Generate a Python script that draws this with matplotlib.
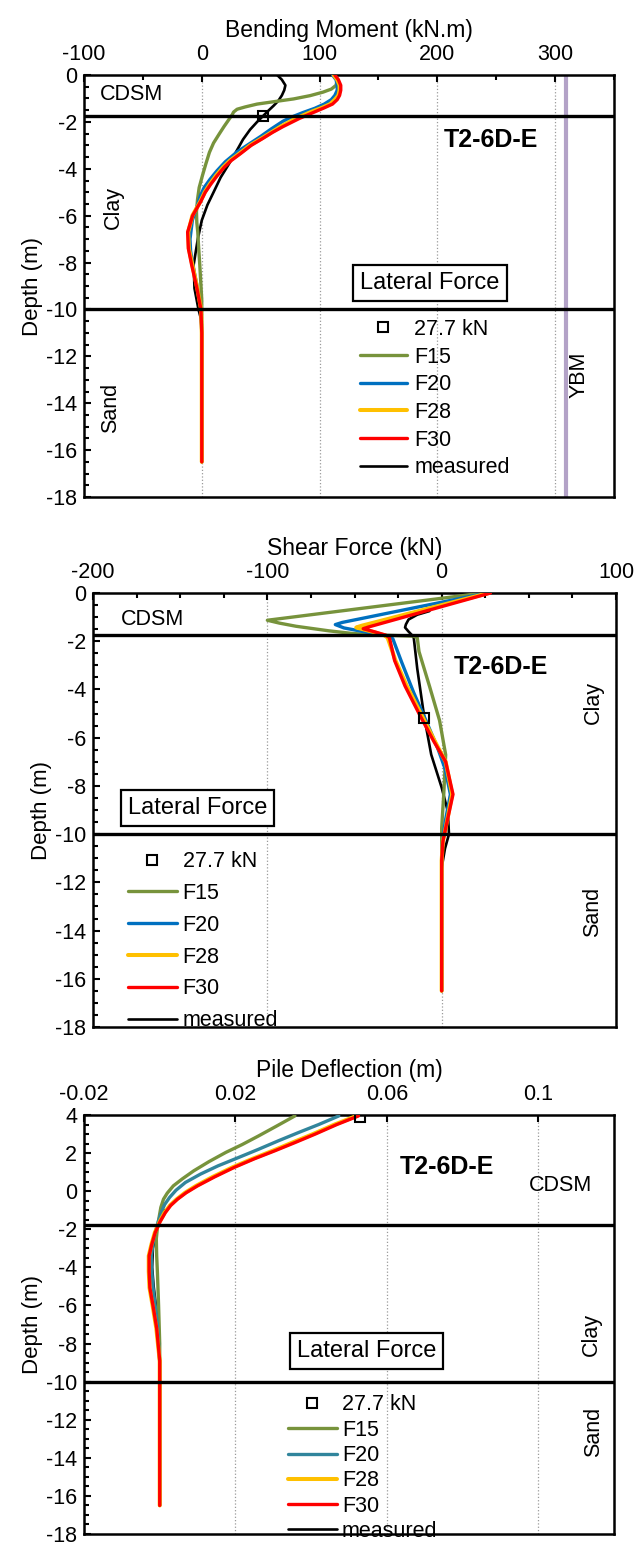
import matplotlib
matplotlib.use("Agg")
import matplotlib.pyplot as plt
from matplotlib.lines import Line2D
from matplotlib.ticker import MultipleLocator

plt.rcParams['font.family'] = ['Liberation Sans', 'DejaVu Sans']
plt.rcParams['axes.unicode_minus'] = False

# ---------------- data: bending moment (kN.m) ----------------
bm_f15_d = [0, -0.2, -0.44, -0.6, -0.73, -0.88, -1.02, -1.14, -1.24, -1.36, -1.46, -1.58, -1.68, -1.9, -2.19, -2.5, -2.9, -3.3, -3.8, -4.3, -4.8, -5.3, -5.83, -6.3, -6.7, -7.4, -8.1, -8.9, -9.6, -10.5, -12, -14, -16.5]
bm_f15 = [112, 115, 114, 110, 103, 92, 78, 61, 47, 37, 30, 27, 26, 23, 19, 15, 10, 6.5, 3.4, 0.5, -2.2, -3.6, -4.5, -4.2, -3.4, -2.6, -1.7, -0.8, 0, 0, 0, 0, 0]
bm_f20_d = [0, -0.2, -0.44, -0.65, -0.87, -1.05, -1.24, -1.42, -1.6, -1.8, -1.97, -2.3, -2.62, -2.95, -3.28, -3.7, -4.08, -4.45, -4.8, -5.15, -5.54, -6.2, -7.0, -7.5, -8.0, -9.0, -10.0, -11, -16.5]
bm_f20 = [111, 114, 115, 115, 113, 110, 104, 96, 86, 76, 69, 59, 50, 40, 30, 20, 13, 7, 2, -1.2, -3.6, -8, -10, -9.5, -8, -4, -0.7, 0, 0]
bm_f28_d = [0, -0.2, -0.44, -0.65, -0.87, -1.05, -1.24, -1.4, -1.55, -1.7, -1.85, -2.2, -2.45, -2.7, -3.0, -3.35, -3.65, -3.94, -4.3, -4.66, -5.0, -5.39, -6.0, -6.7, -7.4, -8.1, -9.1, -10, -11, -16.5]
bm_f28 = [112, 115, 117, 117, 116, 113, 109, 102, 94, 87, 80, 67, 59, 51, 41, 32, 24, 18, 12, 6.8, 2.5, -1.2, -8, -11.5, -11, -8, -3.8, -0.6, 0, 0]
bm_f30_d = bm_f28_d
bm_f30 = [113, 116, 118, 118, 117, 115, 111, 104, 97, 90, 83, 69, 60, 52, 42, 33, 25, 19, 13, 7.6, 3, -0.8, -7.8, -12, -11.4, -8.6, -4.1, -0.7, 0, 0]
bm_meas_d = [0, -0.2, -0.44, -0.65, -0.87, -1.1, -1.31, -1.5, -1.75, -2.0, -2.33, -2.75, -3.2, -3.8, -4.37, -5.0, -5.54, -6.2, -7.0, -8.1, -9.1, -10.0, -10.4, -11]
bm_meas = [64, 68, 71, 70, 68, 65, 61, 57, 52, 47, 41, 35, 30, 23, 16, 10, 4.8, 0, -3.4, -6.9, -6.2, -2.8, -0.7, 0]
bm_pt_d = [-1.75]
bm_pt = [52]
ybm = 309

# ---------------- data: shear force (kN) ----------------
sf_f15_d = [0, -1.13, -1.25, -1.38, -1.57, -1.68, -1.74, -1.79, -1.86, -2.43, -3.86, -5.29, -6.71, -8.35, -9.75, -11, -16.5]
sf_f15 = [24, -100, -93, -83.5, -64.6, -51, -37, -16, -14, -13, -7, -1.2, 2.3, 1.2, 0, 0, 0]
sf_f20_d = [0, -1.22, -1.31, -1.45, -1.6, -1.79, -1.9, -2.86, -4.14, -5.29, -6.43, -7.3, -8.35, -9.5, -10.3, -11.1, -16.5]
sf_f20 = [26, -57, -61, -56, -45, -30, -28, -23, -16, -9, -2.3, 2, 5, 2, 0.5, 0, 0]
sf_f28_d = [0, -1.36, -1.43, -1.6, -1.75, -1.85, -2.8, -3.86, -5.14, -6.14, -7.0, -8.35, -9.75, -10.3, -11.1, -16.5]
sf_f28 = [27, -46, -49, -40, -33, -31, -26.5, -20, -11, -4, 2.3, 6, 2.3, 0.7, 0, 0]
sf_f30_d = [0, -1.41, -1.48, -1.62, -1.75, -1.85, -2.8, -3.86, -5.14, -6.14, -7.0, -8.35, -9.75, -10.3, -11.1, -16.5]
sf_f30 = [28, -42, -45, -38, -32, -30, -27, -21, -12, -4.6, 2.3, 6.5, 2.3, 0.7, 0, 0]
sf_meas_d = [-0.75, -0.9, -1.1, -1.3, -1.43, -1.6, -1.75, -1.86, -3.14, -5.14, -6.7, -8.07, -9.05, -10, -10.6, -11.4]
sf_meas = [-7, -14, -19, -20.5, -21, -19, -17, -16, -14, -10, -6, 0, 3.5, 4.2, 1.9, 0]
sf_pt_d = [-5.19]
sf_pt = [-10]

# ---------------- data: pile deflection (m) ----------------
pd_f15_d = [3.95, 3.4, 2.9, 2.45, 2.04, 1.55, 1.07, 0.65, 0.28, -0.1, -0.42, -0.85, -1.3, -1.9, -2.5, -3.4, -4.3, -6, -8, -10, -16.5]
pd_f15 = [0.0357, 0.0307, 0.0261, 0.0218, 0.0175, 0.0130, 0.009, 0.0060, 0.0036, 0.0020, 0.001, 0.0003, -0.0001, -0.0006, -0.0009, -0.0008, -0.0006, -0.0003, 0, 0, 0]
pd_f20_d = [3.95, 3.5, 3.09, 2.65, 2.2, 1.75, 1.33, 0.9, 0.46, 0.05, -0.33, -0.7, -1.12, -1.6, -2.18, -2.8, -3.4, -4.2, -5, -7, -9, -10, -16.5]
pd_f20 = [0.0473, 0.0420, 0.0368, 0.0314, 0.0261, 0.0206, 0.0154, 0.0108, 0.0068, 0.0043, 0.0026, 0.0013, 0.0004, -0.0004, -0.0012, -0.0018, -0.0022, -0.0021, -0.0018, -0.0006, 0, 0, 0]
pd_f28_d = [3.95, 3.5, 3.0, 2.55, 2.12, 1.7, 1.25, 0.75, 0.28, -0.08, -0.42, -0.75, -1.12, -1.6, -2.18, -2.8, -3.4, -4.2, -5.07, -6.1, -7.2, -8.9, -10, -16.5]
pd_f28 = [0.0520, 0.0462, 0.0405, 0.0350, 0.0298, 0.0245, 0.0192, 0.0140, 0.0096, 0.0067, 0.0045, 0.0027, 0.0013, 0.0000, -0.0013, -0.0022, -0.0029, -0.0029, -0.0027, -0.0018, -0.0009, 0, 0, 0]
pd_f30_d = pd_f28_d
pd_f30 = [0.0525, 0.0468, 0.0411, 0.0357, 0.0304, 0.0250, 0.0197, 0.0145, 0.0100, 0.0070, 0.0047, 0.0029, 0.0015, 0.0001, -0.0012, -0.0021, -0.0028, -0.0028, -0.0026, -0.0017, -0.0008, 0, 0, 0]
pd_meas_d = [-1.0, -2.0, -3.0, -4.0, -5.0, -6.0, -7.0, -8.0]
pd_meas = [0.0012, -0.0008, -0.0018, -0.0020, -0.0016, -0.0010, -0.0005, 0]
pd_pt_d = [3.9]
pd_pt = [0.053]

legend_labels = ['27.7 kN', 'F15', 'F20', 'F28', 'F30', 'measured']
layer_depths = [-1.75, -10]

C_F15 = '#77933C'
C_F20 = '#0070C0'
C_F20b = '#31859C'
C_F28 = '#FFC000'
C_F30 = '#FF0000'

FS = 15.5

fig = plt.figure(figsize=(6.44, 15.46), dpi=100)
W, H = 644, 1546


def make_ax(l, r, t, b):
    return fig.add_axes([l / W, 1 - b / H, (r - l) / W, (b - t) / H])


def style(ax, xlim, ylim, xmajor, xminor, xlabel):
    ax.set_xlim(*xlim)
    ax.set_ylim(*ylim)
    ax.xaxis.tick_top()
    ax.xaxis.set_label_position('top')
    ax.xaxis.set_major_locator(MultipleLocator(xmajor))
    if xminor:
        ax.xaxis.set_minor_locator(MultipleLocator(xminor))
    ax.yaxis.set_major_locator(MultipleLocator(2))
    ax.yaxis.set_minor_locator(MultipleLocator(0.5))
    ax.tick_params(axis='both', which='both', direction='in', labelsize=FS,
                   top=True, bottom=False, left=True, right=False, width=1.5)
    ax.tick_params(which='major', length=5)
    ax.tick_params(which='minor', length=3.5)
    ax.tick_params(axis='x', pad=7)
    ax.tick_params(axis='y', pad=5)
    ax.grid(axis='x', which='major', linestyle=':', color='#9a9a9a', lw=0.9)
    for s in ax.spines.values():
        s.set_linewidth(1.8)
    ax.set_xlabel(xlabel, fontsize=16.5, labelpad=5)
    ax.set_ylabel('Depth (m)', fontsize=16, labelpad=2)
    for d in layer_depths:
        ax.axhline(d, color='black', lw=2.4, zorder=5)


def curves(ax, data, c20):
    (x15, d15), (x20, d20), (x28, d28), (x30, d30), (xm, dm), (xp, dp) = data
    kw = dict(solid_joinstyle='round', solid_capstyle='round')
    h15, = ax.plot(x15, d15, color=C_F15, lw=2.4, zorder=3, **kw)
    h20, = ax.plot(x20, d20, color=c20, lw=2.4, zorder=3, **kw)
    h28, = ax.plot(x28, d28, color=C_F28, lw=2.9, zorder=3, **kw)
    h30, = ax.plot(x30, d30, color=C_F30, lw=2.4, zorder=3, **kw)
    hm, = ax.plot(xm, dm, color='black', lw=1.9, zorder=2.9, **kw)
    hp, = ax.plot(xp, dp, ls='none', marker='s', ms=7, mfc='none', mec='black', mew=1.5, zorder=6)
    hp_leg = Line2D([], [], ls='none', marker='s', ms=7, mfc='none', mec='black', mew=1.5)
    return [hp_leg, h15, h20, h28, h30, hm]


def legend(ax, handles, anchor, spacing, hlen, tpad):
    ax.legend(handles, legend_labels, loc='upper left', bbox_to_anchor=anchor,
              frameon=False, fontsize=FS, labelspacing=spacing, handlelength=hlen,
              handletextpad=tpad, borderpad=0, borderaxespad=0)


def lateral_box(ax, x, y):
    ax.text(x, y, 'Lateral Force', transform=ax.transAxes, fontsize=17, ha='center', va='center',
            bbox=dict(boxstyle='square,pad=0.3', fc='white', ec='black', lw=1.6), zorder=7)


# ---------------- panel 1 ----------------
ax1 = make_ax(84, 614, 75, 497)
style(ax1, (-100, 350), (-18, 0), 100, 50, 'Bending Moment (kN.m)')
h = curves(ax1, [(bm_f15, bm_f15_d), (bm_f20, bm_f20_d), (bm_f28, bm_f28_d), (bm_f30, bm_f30_d),
                 (bm_meas, bm_meas_d), (bm_pt, bm_pt_d)], C_F20)
ax1.axvline(ybm, color='#B3A2C7', lw=3, zorder=2)
legend(ax1, h, (0.52, 0.422), 0.31, 2.2, 0.35)
lateral_box(ax1, 0.653, 0.507)
ax1.text(0.03, 0.953, 'CDSM', transform=ax1.transAxes, fontsize=FS, ha='left', va='center')
ax1.text(0.056, 0.687, 'Clay', transform=ax1.transAxes, fontsize=FS, ha='center', va='center', rotation=90)
ax1.text(0.05, 0.211, 'Sand', transform=ax1.transAxes, fontsize=FS, ha='center', va='center', rotation=90)
ax1.text(0.768, 0.846, 'T2-6D-E', transform=ax1.transAxes, fontsize=18, fontweight='bold', ha='center', va='center')
ax1.text(0.935, 0.289, 'YBM', transform=ax1.transAxes, fontsize=FS, ha='center', va='center', rotation=90)

# ---------------- panel 2 ----------------
ax2 = make_ax(93, 616, 593, 1027)
style(ax2, (-200, 100), (-18, 0), 100, 25, 'Shear Force (kN)')
h = curves(ax2, [(sf_f15, sf_f15_d), (sf_f20, sf_f20_d), (sf_f28, sf_f28_d), (sf_f30, sf_f30_d),
                 (sf_meas, sf_meas_d), (sf_pt, sf_pt_d)], C_F20)
legend(ax2, h, (0.066, 0.405), 0.5, 2.3, 0.26)
lateral_box(ax2, 0.2, 0.505)
ax2.text(0.054, 0.938, 'CDSM', transform=ax2.transAxes, fontsize=FS, ha='left', va='center')
ax2.text(0.78, 0.83, 'T2-6D-E', transform=ax2.transAxes, fontsize=18, fontweight='bold', ha='center', va='center')
ax2.text(0.957, 0.747, 'Clay', transform=ax2.transAxes, fontsize=FS, ha='center', va='center', rotation=90)
ax2.text(0.955, 0.265, 'Sand', transform=ax2.transAxes, fontsize=FS, ha='center', va='center', rotation=90)

# ---------------- panel 3 ----------------
ax3 = make_ax(84, 614, 1115, 1534)
style(ax3, (-0.02, 0.12), (-18, 4), 0.04, None, 'Pile Deflection (m)')
ax3.set_xticks([-0.02, 0.02, 0.06, 0.1])
ax3.set_xticklabels(['-0.02', '0.02', '0.06', '0.1'])
h = curves(ax3, [(pd_f15, pd_f15_d), (pd_f20, pd_f20_d), (pd_f28, pd_f28_d), (pd_f30, pd_f30_d),
                 (pd_meas, pd_meas_d), (pd_pt, pd_pt_d)], C_F20b)
legend(ax3, h, (0.384, 0.333), 0.2, 2.3, 0.22)
lateral_box(ax3, 0.533, 0.436)
ax3.text(0.685, 0.877, 'T2-6D-E', transform=ax3.transAxes, fontsize=18, fontweight='bold', ha='center', va='center')
ax3.text(0.90, 0.832, 'CDSM', transform=ax3.transAxes, fontsize=FS, ha='center', va='center')
ax3.text(0.958, 0.476, 'Clay', transform=ax3.transAxes, fontsize=FS, ha='center', va='center', rotation=90)
ax3.text(0.962, 0.244, 'Sand', transform=ax3.transAxes, fontsize=FS, ha='center', va='center', rotation=90)

fig.savefig('out.png', dpi=100)
